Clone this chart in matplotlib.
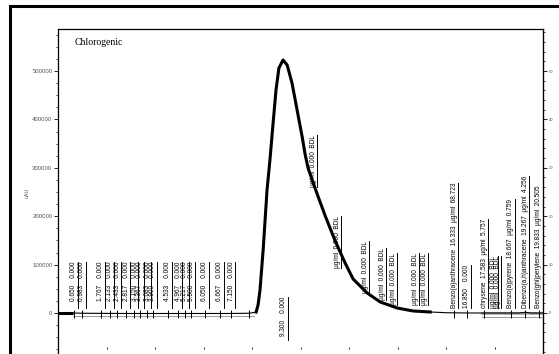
import matplotlib
matplotlib.use("Agg")
import matplotlib.pyplot as plt
from matplotlib.patches import Rectangle
from matplotlib.ticker import MultipleLocator, FuncFormatter
from matplotlib import transforms

# chromatogram trace (minutes, uAU)
trace_t = [0.0, 0.3, 0.6, 1.0, 2.0, 3.0, 4.0, 5.0, 6.0, 7.0, 7.9, 8.17, 8.25,
           8.33, 8.46, 8.62, 8.74, 8.87, 8.99, 9.11, 9.28, 9.45, 9.65, 9.86,
           10.07, 10.19, 10.31, 10.48, 10.73, 11.02, 11.43, 11.84, 12.17,
           12.75, 13.29, 13.99, 14.65, 15.35, 16.06, 17.0, 18.0, 19.0, 19.27,
           19.5, 20.0]
trace_v = [0, 0, 0, -500, -800, -1000, -1000, -1000, -1000, -1000, -500,
           2000, 16500, 47500, 130200, 254100, 316100, 392600, 460700, 506200,
           522700, 512400, 475200, 419400, 363600, 328000, 300000, 275000,
           240000, 200600, 148800, 103300, 70200, 41300, 22700, 10300, 4100,
           2100, 500, 0, 0, 0, 1500, 0, 0]

# unnamed early peaks
early_times = [0.650, 0.983, 1.767, 2.133, 2.433, 2.817, 3.150, 3.367, 3.683,
               3.900, 4.533, 4.967, 5.217, 5.500, 6.050, 6.667, 7.150]
early_amounts = ["0.000"] * len(early_times)

# main peak label
main_time = 9.300
main_amount = "0.000"

# peaks below detection limit (µg/ml 0.000 BDL)
bdl_times = [10.52, 11.51, 12.67, 13.37, 13.82, 14.73, 15.11, 17.97, 18.12]
bdl_levels = [260000, 93000, 41300, 26900, 16500, 16500, 16500, 10300, 10300]

# named compounds
pah_names = ["Benzo(a)anthracene", "", "chrysene", "Benzo(a)pyrene",
             "Dibenzo(a,h)anthracene", "Benzo(ghi)perylene"]
pah_times = [16.333, 16.850, 17.583, 18.667, 19.267, 19.833]
pah_amounts = ["68.723", "0.000", "5.757", "0.759", "4.256", "20.505"]

extra_marks = [7.88]

W, H = 559, 354
fig = plt.figure(figsize=(W / 100, H / 100), dpi=100)
plt.rcParams['font.family'] = ['Liberation Sans', 'DejaVu Sans']


def px(x0, y0, x1, y1):
    return [x0 / W, 1 - y1 / H, (x1 - x0) / W, (y1 - y0) / H]


def val(ypix):
    # pixel row -> uAU
    return (313 - ypix) / 242 * 500000


ax = fig.add_axes(px(58, 29, 543, 356))
ax.set_xlim(0, 20)
ax.set_ylim(val(356), val(29))

# outer frame
fig.patches.append(Rectangle((10 / W, -0.2), 1.5, 1 - 6 / H + 0.2,
                             transform=fig.transFigure, fill=False,
                             lw=2.2, ec='black'))

for side in ['left', 'right', 'top', 'bottom']:
    ax.spines[side].set_linewidth(0.9)
ax.set_xticks([])

ax.yaxis.set_major_locator(MultipleLocator(100000))
ax.yaxis.set_minor_locator(MultipleLocator(25000))
ax.yaxis.set_major_formatter(FuncFormatter(lambda v, p: '%d' % v))
ax.tick_params(axis='y', which='major', length=3, width=0.6, pad=1,
               labelsize=4.3, labelcolor='#555555')
ax.tick_params(axis='y', which='minor', length=1.5, width=0.5)
ax.set_ylabel('uAU', fontsize=3.8, color='#555555')
ax.yaxis.set_label_coords(-0.058, 0.5)

right = ax.secondary_yaxis('right', functions=(lambda v: v / 10000,
                                                lambda u: u * 10000))
right.set_yticks([0, 10, 20, 30, 40, 50])
right.yaxis.set_minor_locator(MultipleLocator(2))
right.tick_params(which='major', length=3, width=0.6, pad=1, labelsize=3,
                  labelcolor='#555555')
right.tick_params(which='minor', length=1.5, width=0.5)

bottom = ax.secondary_xaxis((356 - 347) / 327)
bottom.set_xticks([2, 4, 6, 8, 10, 12, 14, 16, 18])
bottom.set_xticklabels([])
bottom.spines['bottom'].set_visible(False)
bottom.tick_params(length=1.5, width=0.6, labelbottom=False)

ax.text(0.035, 0.96, 'Chlorogenic', transform=ax.transAxes, fontsize=7,
        family='Liberation Serif', va='center', ha='left')

# integration baselines
ax.plot([0.6, 8.1], [val(315.5), val(315.5)], color='#999999', lw=0.7)
ax.plot([17.5, 20], [val(316.5), val(316.5)], color='#999999', lw=0.7)
ax.plot([17.5, 20], [0, 0], color='#aaaaaa', lw=2.0)

# trace: thin everywhere, thick where the signal is
ax.plot(trace_t, trace_v, color='black', lw=0.8)
thick = [(t, v) for t, v in zip(trace_t, trace_v) if t <= 0.6]
ax.plot([p[0] for p in thick], [p[1] for p in thick], color='black', lw=2.2,
        solid_capstyle='butt')
thick = [(t, v) for t, v in zip(trace_t, trace_v) if 8.1 <= t <= 15.4]
ax.plot([p[0] for p in thick], [p[1] for p in thick], color='black', lw=2.2,
        solid_joinstyle='round')

# peak markers
marks = early_times + extra_marks + pah_times
ax.vlines(marks, val(318), val(310), color='black', lw=0.7)

labels = []


def label(t, base, text, lift=0):
    off = transforms.offset_copy(ax.transData, fig=fig, x=0, y=lift,
                                 units='dots')
    txt = ax.text(t, base, text, rotation=90, ha='center', va='bottom',
                  fontsize=4.7, transform=off)
    labels.append((txt, t, base))


for t, a in zip(early_times, early_amounts):
    label(t, val(308), '%.3f    %s' % (t, a), lift=7)
label(main_time, val(340), '%.3f    %s' % (main_time, main_amount), lift=4)
for t, lv in zip(bdl_times, bdl_levels):
    label(t, lv, 'µg/ml  0.000  BDL')
for n, t, a in zip(pah_names, pah_times, pah_amounts):
    if n:
        label(t, val(308), '%s  %.3f  µg/ml  %s' % (n, t, a))
    else:
        label(t, val(308), '%.3f    %s' % (t, a))

fig.canvas.draw()
inv = ax.transData.inverted()
for txt, t, base in labels:
    bb = txt.get_window_extent()
    x_line, top = inv.transform((bb.x1 + 0.5, bb.y1))
    ax.plot([x_line, x_line], [base, top], color='black', lw=0.7)

fig.savefig('out.png', dpi=100)
